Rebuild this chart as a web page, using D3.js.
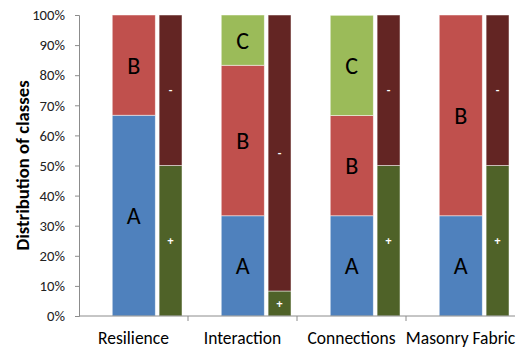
<!DOCTYPE html>
<html>
<head>
<meta charset="utf-8">
<script src="https://cdn.jsdelivr.net/npm/d3@7"></script>
<style>
  html, body { margin: 0; padding: 0; background: #fff; }
  svg { display: block; font-family: Carlito, "Open Sans", "Noto Sans", sans-serif; }
</style>
</head>
<body>
<div id="chart"></div>
<script>
// Share of each class (A, B, C) and of the +/- split, per parameter, in percent
const categories = ["Resilience", "Interaction", "Connections", "Masonry Fabric"];
const classA = [66.7, 33.3, 33.3, 33.3];
const classB = [33.3, 50.0, 33.3, 66.7];
const classC = [0, 16.7, 33.3, 0];
const plusShare = [50.0, 8.3, 50.0, 50.0];
const minusShare = [50.0, 91.7, 50.0, 50.0];
const yTicks = [0, 10, 20, 30, 40, 50, 60, 70, 80, 90, 100];
const classNames = ["A", "B", "C"];
const signNames = ["+", "-"];

const W = 516, H = 350;
const margin = { left: 79, right: 1, top: 15, bottom: 34 };

const svg = d3.select("#chart").append("svg")
  .attr("width", W).attr("height", H);

const x = d3.scaleBand()
  .domain(categories)
  .range([margin.left, W - margin.right])
  .paddingInner(0).paddingOuter(0);

const y = d3.scaleLinear()
  .domain([0, 100])
  .range([H - margin.bottom, margin.top]);

const classColors = ["#4F81BD", "#C0504D", "#9BBB59"];
const signColors = ["#4F6228", "#632523"];

// stacked layouts built from the arrays
const classRows = categories.map((c, i) => ({ cat: c, A: classA[i], B: classB[i], C: classC[i] }));
const signRows = categories.map((c, i) => ({ cat: c, "+": plusShare[i], "-": minusShare[i] }));
const classStack = d3.stack().keys(classNames)(classRows);
const signStack = d3.stack().keys(signNames)(signRows);

const bw = x.bandwidth();
const bigX = c => x(c) + bw * 0.305;
const bigW = bw * 0.395;
const smallX = c => x(c) + bw * 0.735;
const smallW = bw * 0.21;

// y axis
const yAxis = svg.append("g")
  .attr("transform", `translate(${margin.left},0)`)
  .call(d3.axisLeft(y).tickValues(yTicks).tickFormat(d => d + "%").tickSizeOuter(0).tickSize(4).tickPadding(10));
yAxis.select(".domain").attr("stroke", "#8C8C8C");
yAxis.selectAll(".tick line").attr("stroke", "#8C8C8C");
yAxis.selectAll(".tick text").attr("font-size", 14.7).attr("fill", "#222")
  .attr("font-family", "Carlito, 'Open Sans', sans-serif");

// class bars
const classLayer = svg.append("g").selectAll("g")
  .data(classStack).join("g")
  .attr("fill", (d, i) => classColors[i]);

classLayer.selectAll("rect")
  .data(d => d.filter(s => s[1] - s[0] > 0))
  .join("rect")
  .attr("x", s => bigX(s.data.cat))
  .attr("width", bigW)
  .attr("y", s => y(s[1]))
  .attr("height", s => y(s[0]) - y(s[1]))
  .attr("stroke", "#fff").attr("stroke-opacity", 0.6).attr("stroke-width", 0.8);

classLayer.selectAll("text")
  .data((d) => d.filter(s => s[1] - s[0] > 0).map(s => ({ s, key: d.key })))
  .join("text")
  .attr("x", o => bigX(o.s.data.cat) + bigW / 2)
  .attr("y", o => y((o.s[0] + o.s[1]) / 2))
  .attr("text-anchor", "middle")
  .attr("dominant-baseline", "central")
  .attr("font-size", 24)
  .attr("fill", "#000")
  .text(o => o.key);

// +/- bars
const signLayer = svg.append("g").selectAll("g")
  .data(signStack).join("g")
  .attr("fill", (d, i) => signColors[i]);

signLayer.selectAll("rect")
  .data(d => d.filter(s => s[1] - s[0] > 0))
  .join("rect")
  .attr("x", s => smallX(s.data.cat))
  .attr("width", smallW)
  .attr("y", s => y(s[1]))
  .attr("height", s => y(s[0]) - y(s[1]))
  .attr("stroke", "#fff").attr("stroke-opacity", 0.6).attr("stroke-width", 0.8);

signLayer.selectAll("text")
  .data((d) => d.filter(s => s[1] - s[0] > 0).map(s => ({ s, key: d.key })))
  .join("text")
  .attr("x", o => smallX(o.s.data.cat) + smallW / 2)
  .attr("y", o => y((o.s[0] + o.s[1]) / 2))
  .attr("text-anchor", "middle")
  .attr("dominant-baseline", "central")
  .attr("font-size", 12)
  .attr("font-weight", "bold")
  .attr("fill", "#fff")
  .text(o => o.key);

// x axis with boundary ticks between categories
const xAxisG = svg.append("g")
  .attr("transform", `translate(0,${y(0)})`);
xAxisG.append("line")
  .attr("x1", margin.left).attr("x2", W - margin.right)
  .attr("stroke", "#8C8C8C");
xAxisG.selectAll("line.sep")
  .data(categories.slice(1))
  .join("line")
  .attr("class", "sep")
  .attr("x1", c => x(c)).attr("x2", c => x(c))
  .attr("y1", 0).attr("y2", 5)
  .attr("stroke", "#8C8C8C");
xAxisG.selectAll("text")
  .data(categories)
  .join("text")
  .attr("x", c => x(c) + bw / 2)
  .attr("y", 28)
  .attr("text-anchor", "middle")
  .attr("font-size", 17.5)
  .attr("fill", "#000")
  .text(c => c);

// y axis title
svg.append("text")
  .attr("transform", `translate(22,${(y(0) + y(100)) / 2}) rotate(-90)`)
  .attr("text-anchor", "middle")
  .attr("dominant-baseline", "central")
  .attr("font-size", 18.7)
  .attr("font-weight", "bold")
  .attr("fill", "#000")
  .text("Distribution of classes");
</script>
</body>
</html>
